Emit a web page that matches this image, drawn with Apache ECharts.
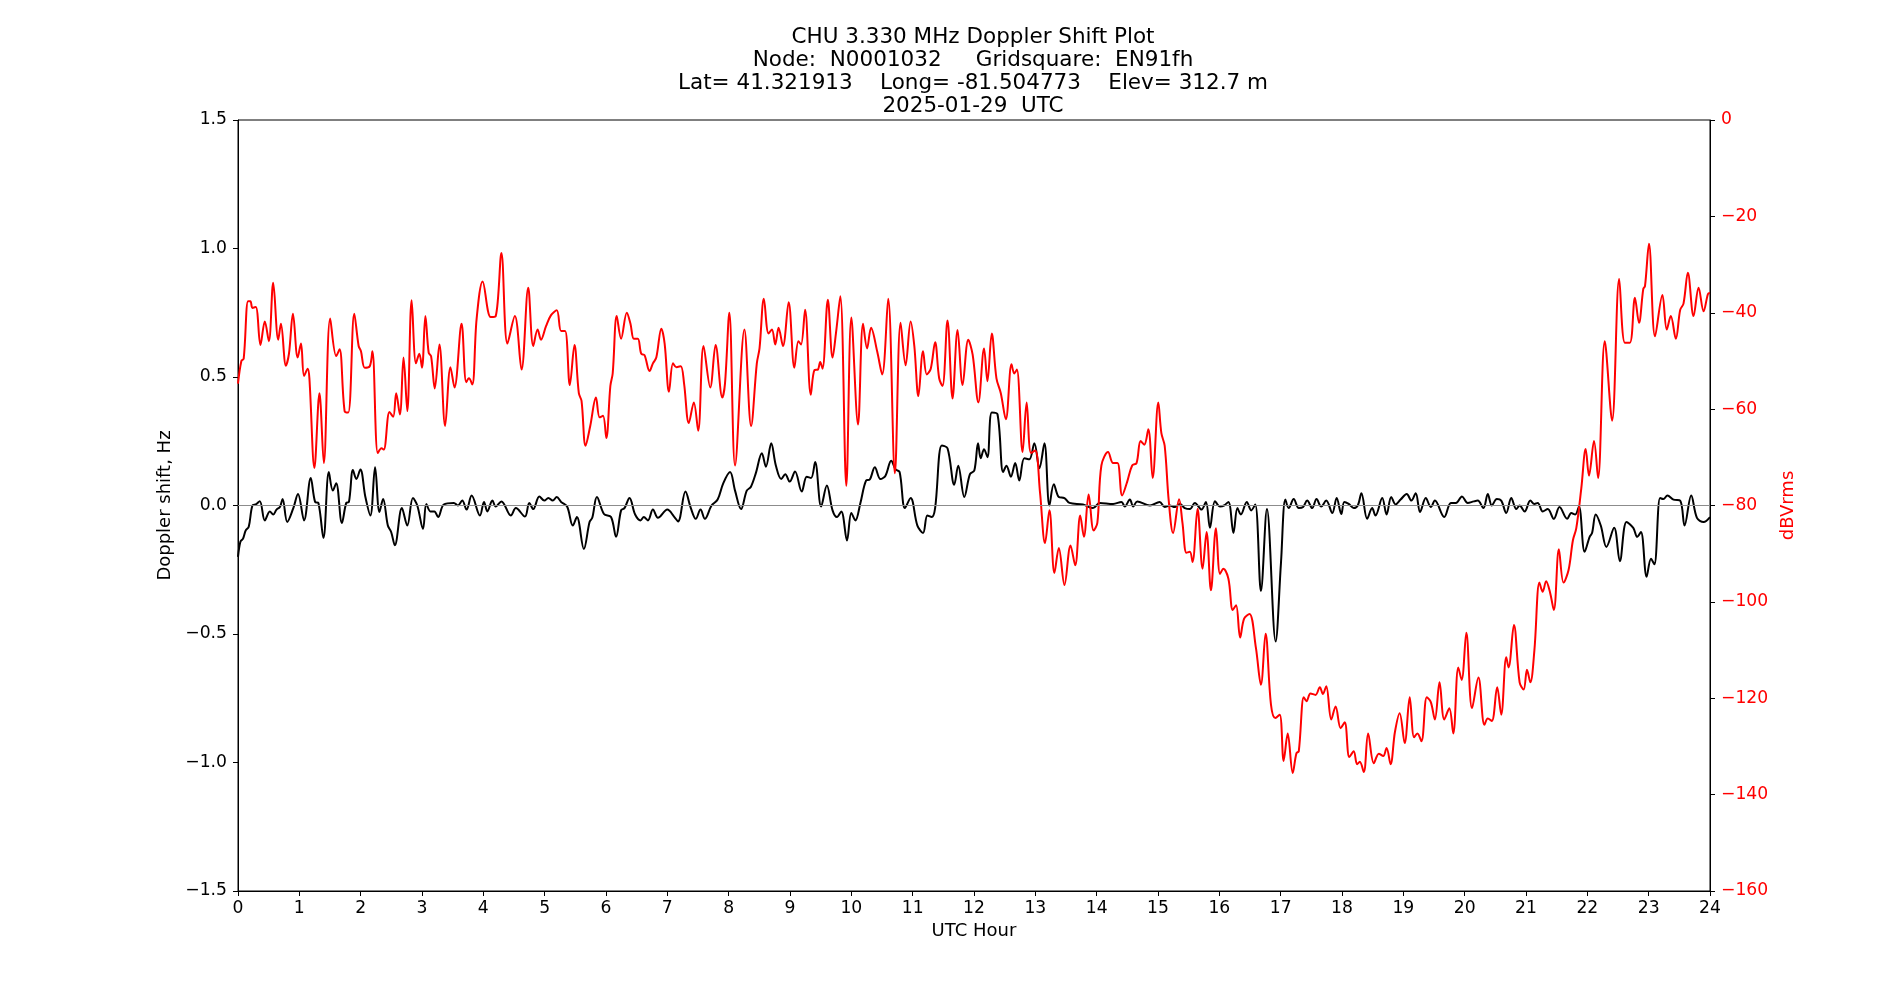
<!DOCTYPE html>
<html>
<head>
<meta charset="utf-8">
<script src="https://cdn.jsdelivr.net/npm/echarts@6.0.0/dist/echarts.min.js"></script>
<style>
html,body{margin:0;padding:0;background:#fff;}
#chart{width:1900px;height:1000px;}
</style>
</head>
<body>
<div id="chart"></div>
<script>
const titleLines = [
  'CHU 3.330 MHz Doppler Shift Plot',
  'Node:  N0001032     Gridsquare:  EN91fh',
  'Lat= 41.321913    Long= -81.504773    Elev= 312.7 m',
  '2025-01-29  UTC'
];
const xAxisTitle = 'UTC Hour';
const leftAxisTitle = 'Doppler shift, Hz';
const rightAxisTitle = 'dBVrms';

const dopplerHours = [
0.0,0.04,0.08,0.126,0.175,0.235,0.29,0.355,0.437,0.519,0.574,0.628,0.683,0.727,0.803,0.902,0.978,1.077,1.186,1.257,1.311,1.393,1.481,1.546,1.601,1.694,1.765,1.809,1.874,1.929,1.995,2.077,2.158,2.235,2.306,2.366,2.443,2.497,2.557,2.672,2.76,2.852,2.923,3.016,
3.071,3.137,3.202,3.262,3.355,3.519,3.585,3.656,3.727,3.809,3.945,4.011,4.066,4.148,4.202,4.295,4.448,4.53,4.678,4.749,4.814,4.913,4.995,5.06,5.131,5.197,5.268,5.366,5.459,5.525,5.639,5.732,5.776,5.852,5.967,
6.082,6.164,6.246,6.301,6.383,6.475,6.563,6.617,6.683,6.765,6.847,7.0,7.109,7.175,7.295,7.383,7.464,7.541,7.612,7.721,7.82,7.913,8.022,8.104,8.202,8.295,8.361,8.443,8.541,8.607,8.694,8.77,8.858,8.923,8.995,
9.082,9.191,9.273,9.344,9.41,9.508,9.601,9.694,9.765,9.836,9.929,10.0,10.066,10.148,10.24,10.301,10.383,10.475,10.557,10.65,10.721,10.787,10.874,10.967,11.077,11.169,11.24,11.311,11.366,11.475,11.568,11.678,11.743,11.842,11.934,12.005,
12.066,12.109,12.164,12.219,12.29,12.383,12.475,12.53,12.601,12.672,12.738,12.82,12.902,12.984,13.066,13.148,13.23,13.301,13.383,13.475,13.557,13.776,13.94,14.049,14.268,14.404,14.459,14.541,14.596,14.661,14.869,
15.027,15.109,15.191,15.273,15.355,15.437,15.519,15.601,15.71,15.781,15.847,15.929,16.011,16.077,16.148,16.23,16.295,16.35,16.448,16.519,16.585,16.678,16.776,16.918,17.005,17.077,17.131,17.213,17.295,17.366,17.432,17.514,17.585,17.661,17.743,17.842,17.913,17.989,
18.038,18.109,18.191,18.257,18.317,18.41,18.492,18.546,18.656,18.727,18.803,18.874,18.956,19.055,19.131,19.202,19.273,19.366,19.448,19.514,19.667,19.776,19.858,19.956,20.049,20.148,20.213,20.306,20.377,20.443,20.525,20.596,20.678,20.76,20.842,20.896,20.978,
21.071,21.137,21.191,21.273,21.355,21.454,21.546,21.672,21.738,21.803,21.863,21.956,22.038,22.077,22.137,22.219,22.311,22.437,22.53,22.639,22.749,22.814,22.874,22.967,23.038,23.093,23.186,23.24,23.306,23.404,23.514,23.585,23.694,23.787,23.896,24.0
];
const dopplerHz = [
-0.20,-0.14,-0.13,-0.097,-0.083,0.0,0.004,0.017,-0.058,-0.023,-0.035,-0.016,-0.006,0.025,-0.064,-0.01,0.045,-0.058,0.107,0.014,0.01,-0.126,0.13,0.058,0.087,-0.068,0.01,0.014,0.138,0.103,0.14,0.033,-0.039,0.149,-0.025,0.025,-0.078,-0.103,-0.155,-0.01,-0.078,0.029,0.0,-0.091,
0.006,-0.023,-0.023,-0.045,0.004,0.01,0.0,0.019,-0.016,0.039,-0.039,0.014,-0.023,0.019,-0.004,0.016,-0.039,-0.01,-0.043,0.01,-0.014,0.035,0.019,0.029,0.019,0.033,0.014,-0.004,-0.078,-0.045,-0.169,-0.064,-0.048,0.033,-0.033,
-0.045,-0.122,-0.019,-0.01,0.029,-0.035,-0.058,-0.045,-0.058,-0.016,-0.048,-0.016,-0.043,-0.062,0.054,-0.01,-0.052,-0.016,-0.052,0.0,0.023,0.087,0.13,0.058,-0.014,0.058,0.072,0.126,0.203,0.151,0.242,0.155,0.103,0.122,0.093,
0.132,0.054,0.112,0.107,0.169,-0.004,0.078,-0.019,-0.045,-0.023,-0.136,-0.029,-0.058,0.01,0.097,0.101,0.149,0.103,0.116,0.174,0.141,0.13,-0.01,0.029,-0.078,-0.107,-0.039,-0.045,-0.01,0.233,0.223,0.081,0.155,0.033,0.122,0.136,
0.242,0.184,0.219,0.188,0.362,0.355,0.13,0.155,0.112,0.165,0.097,0.184,0.18,0.242,0.145,0.242,0.0,0.083,0.033,0.029,0.01,0.004,-0.01,0.01,0.006,0.014,-0.004,0.023,-0.004,0.016,0.0,
0.014,-0.006,0.0,-0.006,0.006,-0.01,-0.014,0.01,-0.016,0.014,-0.087,0.017,-0.004,0.0,0.014,-0.107,-0.01,-0.035,0.014,-0.019,0.004,-0.333,-0.014,-0.529,-0.223,0.023,-0.01,0.025,-0.01,-0.006,0.019,-0.01,0.025,-0.004,0.019,-0.029,0.029,-0.033,
0.014,0.006,-0.01,0.0,0.048,-0.052,-0.01,-0.039,0.029,-0.035,0.033,0.004,0.023,0.045,0.019,0.048,-0.025,0.029,-0.006,0.019,-0.045,0.01,0.01,0.035,0.01,0.016,0.019,-0.01,0.045,0.0,0.025,0.019,-0.029,0.029,-0.014,0.0,-0.023,
0.019,0.006,0.01,-0.023,-0.014,-0.052,-0.006,-0.052,-0.029,-0.035,-0.004,-0.18,-0.122,-0.107,-0.035,-0.078,-0.161,-0.087,-0.217,-0.064,-0.087,-0.122,-0.103,-0.277,-0.207,-0.229,0.029,0.025,0.039,0.023,0.019,-0.078,0.039,-0.048,-0.064,-0.045
];

const powerHours = [
0.0,0.055,0.093,0.164,0.202,0.235,0.29,0.366,0.437,0.503,0.574,0.656,0.7,0.781,0.831,0.896,0.973,1.027,1.077,1.137,1.164,1.246,1.328,1.399,1.503,1.601,1.656,1.738,1.798,1.896,1.967,2.005,2.066,2.148,2.191,2.279,2.339,2.377,2.47,2.53,2.579,2.639,2.699,2.76,2.831,2.902,2.956,3.0,
3.055,3.109,3.148,3.208,3.284,3.377,3.464,3.53,3.645,3.721,3.765,3.82,3.891,3.989,4.12,4.202,4.295,4.393,4.514,4.623,4.732,4.814,4.885,4.94,5.022,5.104,5.197,5.268,5.333,5.41,5.486,5.557,5.601,5.667,5.743,5.836,5.896,5.951,6.005,
6.071,6.109,6.175,6.246,6.339,6.399,6.454,6.519,6.574,6.628,6.71,6.765,6.82,6.902,6.956,7.027,7.093,7.148,7.219,7.273,7.35,7.432,7.503,7.59,7.7,7.787,7.896,7.94,8.011,8.104,8.257,8.366,8.459,8.503,8.574,8.65,8.705,8.76,8.814,8.885,8.978,
9.071,9.137,9.18,9.246,9.339,9.399,9.454,9.492,9.53,9.617,9.694,9.749,9.82,9.918,10.0,10.109,10.191,10.257,10.322,10.421,10.503,10.601,10.71,10.803,10.885,10.967,11.027,11.093,11.169,11.23,11.295,11.366,11.432,11.486,11.568,11.65,11.732,11.814,11.907,11.978,
12.071,12.164,12.219,12.29,12.366,12.437,12.519,12.612,12.656,12.699,12.792,12.858,12.929,13.0,13.077,13.158,13.23,13.311,13.383,13.475,13.574,13.65,13.732,13.792,13.869,13.951,14.011,14.077,14.186,14.268,14.339,14.415,14.497,14.579,14.65,14.716,14.776,14.842,14.913,15.005,
15.055,15.109,15.175,15.246,15.344,15.399,15.464,15.519,15.563,15.645,15.727,15.792,15.863,15.945,16.011,16.066,16.148,16.219,16.273,16.339,16.404,16.492,16.596,16.678,16.754,16.842,16.913,16.984,17.049,17.115,17.197,17.257,17.295,17.377,17.421,17.486,17.568,17.639,17.689,17.743,17.825,17.896,17.978,
18.044,18.12,18.191,18.246,18.29,18.355,18.426,18.519,18.601,18.672,18.727,18.792,18.863,18.94,19.022,19.104,19.175,19.23,19.295,19.383,19.448,19.514,19.59,19.667,19.749,19.814,19.896,19.951,20.027,20.12,20.224,20.322,20.377,20.443,20.53,20.596,20.678,20.716,20.803,20.896,20.962,
21.016,21.071,21.137,21.219,21.273,21.328,21.393,21.454,21.536,21.612,21.694,21.765,21.82,21.902,21.973,22.027,22.109,22.175,22.284,22.404,22.519,22.612,22.694,22.776,22.842,22.913,22.94,23.005,23.104,23.224,23.295,23.361,23.443,23.514,23.568,23.639,23.732,23.814,23.896,23.967,24.0
];
const powerDb = [
-54.7,-50,-49.5,-37.6,-37.6,-39,-38.8,-46.7,-41.8,-45.9,-33.8,-45.6,-42.3,-51,-48.5,-40.2,-49.3,-46.4,-53.1,-51.6,-53.6,-72.2,-56.7,-71.2,-41.2,-49,-47.6,-60.4,-60.7,-40.2,-46.9,-48,-51.4,-51.1,-48,-69.1,-68.1,-68.4,-60.6,-61.6,-56.7,-61.1,-49.3,-60.4,-37.4,-50.5,-48.5,-51.4,
-40.7,-48.3,-49,-55.7,-46.6,-63.5,-51.3,-55.5,-42.3,-54.4,-53.6,-54.9,-41.2,-33.5,-40.9,-40.7,-27.6,-46.4,-40.7,-51.8,-34.8,-46.9,-43.5,-45.6,-42.8,-40.5,-39.5,-43.8,-43.8,-55,-46.7,-56.7,-58.3,-67.6,-63.5,-57.6,-61.7,-61.4,-66,
-55.2,-52.6,-40.7,-45.4,-40,-42.3,-45.4,-45.4,-48.5,-48.8,-52.1,-50.5,-49.3,-43.3,-46.4,-56.4,-50.5,-51.3,-51.1,-54.7,-62.9,-58.6,-64.5,-46.9,-55.5,-46.7,-57.6,-54.7,-40,-71.7,-43.5,-63.5,-50.5,-47.4,-37.1,-44.3,-43.5,-46.6,-43.1,-46.9,-37.8,
-51.4,-45.9,-46.6,-39.4,-57,-51.9,-51.8,-50.2,-51.6,-37.3,-49.3,-44.3,-36.6,-75.9,-41,-63.2,-42.3,-47.4,-43.1,-48,-52.8,-37.1,-73.3,-42.1,-50.9,-41.8,-46.9,-57.3,-48,-52.8,-51.6,-46.1,-53.6,-55.2,-41.6,-57.8,-43.6,-55,-45.6,-48.7,
-58.6,-47.4,-54.2,-44.3,-53.6,-56.7,-62.1,-50.7,-52.6,-51.8,-68.9,-58.6,-69.1,-68.6,-77.4,-87.8,-81,-94,-88.8,-96.5,-88.3,-92.4,-82.1,-86.5,-77.7,-85.2,-83.6,-71.7,-68.9,-71.2,-71.2,-77.9,-75.1,-71.7,-71.2,-66.6,-67.4,-64.2,-74.3,-58.6,
-65,-67.6,-79,-85.7,-78.7,-83.6,-89.8,-89.6,-91.7,-80.7,-93.1,-85.5,-97.6,-84.7,-94.2,-93.1,-95.2,-101.7,-100.7,-107.4,-103.5,-102.5,-109.5,-117.2,-106.6,-121.3,-124.1,-123.4,-133,-127.3,-135.5,-131.4,-131,-119.8,-120.6,-119,-119.3,-117.7,-119.1,-117.5,-124.4,-121.7,-126.2,
-125,-132.2,-131,-133.7,-133.2,-135.3,-127.3,-133.5,-131.5,-132,-130.3,-133.7,-127,-123.1,-129.3,-119.8,-128.1,-127.3,-128.9,-119.8,-120.8,-124.4,-116.7,-124.4,-122.1,-127.3,-113.6,-116.2,-106.4,-122.1,-115.7,-125.5,-124.2,-124.7,-117.7,-123.4,-111.5,-113.6,-104.8,-116.7,-118.2,
-114.1,-116.7,-110,-96,-97.9,-95.7,-98.1,-101.7,-89.1,-96,-93.4,-87.2,-84.7,-76.4,-68.3,-73.8,-66.6,-74.3,-45.9,-62.4,-33,-46.2,-46.2,-36.9,-42.1,-35,-34.5,-25.7,-44.9,-36.3,-43.5,-40.7,-45.4,-39.4,-38.1,-31.7,-40.7,-34.8,-39.7,-36.1,-35.9
];

const FONT = 'DejaVu Sans';
const minus = s => String(s).replace('-', '\u2212');

const chart = echarts.init(document.getElementById('chart'), null, {renderer: 'canvas'});
chart.setOption({
  animation: false,
  backgroundColor: '#ffffff',
  title: {
    text: titleLines.join('\n'),
    left: 973,
    top: 25.5,
    padding: 0,
    textAlign: 'center',
    textStyle: {fontFamily: FONT, fontSize: 21.5, fontWeight: 'normal', color: '#000', lineHeight: 23}
  },
  grid: {
    left: 238, right: 190, top: 120, bottom: 109,
    show: true, borderColor: '#000', borderWidth: 1, backgroundColor: 'transparent'
  },
  xAxis: {
    type: 'value', min: 0, max: 24, interval: 1,
    name: xAxisTitle, nameLocation: 'middle', nameGap: 30,
    nameTextStyle: {fontFamily: FONT, fontSize: 18, color: '#000'},
    axisLine: {show: true, onZero: false, lineStyle: {color: '#000', width: 1}},
    axisTick: {show: true, inside: false, length: 5, lineStyle: {color: '#000'}},
    axisLabel: {fontFamily: FONT, fontSize: 17.2, color: '#000', margin: 9},
    splitLine: {show: false}
  },
  yAxis: [{
    type: 'value', min: -1.5, max: 1.5, interval: 0.5, position: 'left',
    name: leftAxisTitle, nameLocation: 'middle', nameGap: 56, nameRotate: 90,
    nameTextStyle: {fontFamily: FONT, fontSize: 18, color: '#000'},
    axisLine: {show: true, onZero: false, lineStyle: {color: '#000', width: 1}},
    axisTick: {show: true, inside: false, length: 5, lineStyle: {color: '#000'}},
    axisLabel: {fontFamily: FONT, fontSize: 17.2, color: '#000', margin: 11,
      formatter: v => minus(Number(v).toFixed(1))},
    splitLine: {show: false}
  }, {
    type: 'value', min: -160, max: 0, interval: 20, position: 'right',
    name: rightAxisTitle, nameLocation: 'middle', nameGap: 58, nameRotate: 90,
    nameTextStyle: {fontFamily: FONT, fontSize: 18, color: '#ff0000'},
    axisLine: {show: true, onZero: false, lineStyle: {color: '#000', width: 1}},
    axisTick: {show: true, inside: false, length: 5, lineStyle: {color: '#000'}},
    axisLabel: {fontFamily: FONT, fontSize: 17.2, color: '#ff0000', margin: 11,
      formatter: v => minus(v)},
    splitLine: {show: false}
  }],
  series: [{
    type: 'line', name: 'Doppler', yAxisIndex: 0, z: 3,
    data: dopplerHours.map((h, i) => [h, dopplerHz[i]]),
    showSymbol: false, smooth: 0.35, clip: true,
    lineStyle: {color: '#000', width: 2},
    itemStyle: {color: '#000'},
    markLine: {
      silent: true, symbol: ['none', 'none'], label: {show: false},
      lineStyle: {color: '#8c8c8c', width: 1, type: 'solid'},
      data: [{yAxis: 0}]
    }
  }, {
    type: 'line', name: 'Power', yAxisIndex: 1, z: 4,
    data: powerHours.map((h, i) => [h, powerDb[i]]),
    showSymbol: false, smooth: 0.35, clip: true,
    lineStyle: {color: '#ff0000', width: 2},
    itemStyle: {color: '#ff0000'}
  }]
});
</script>
</body>
</html>
